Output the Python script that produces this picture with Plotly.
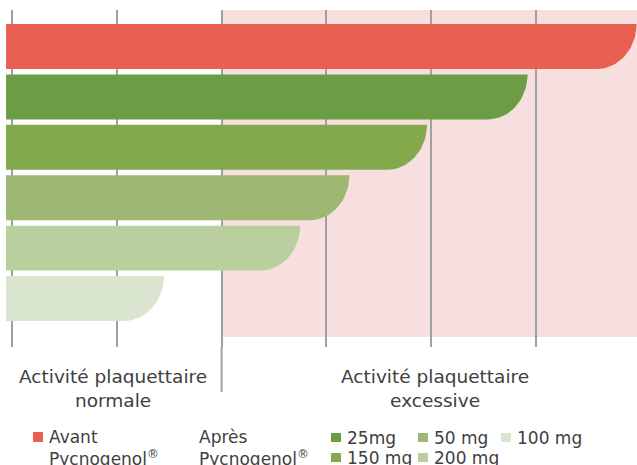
import numpy as np
import plotly.graph_objects as go

# Data (grid units: one vertical gridline = 1 unit)
groups = ["Avant Pycnogenol®", "25mg", "150 mg", "50 mg", "200 mg", "100 mg"]
activity = [5.96, 4.92, 3.96, 3.22, 2.75, 1.45]
bar_colors = ["#e95f52", "#6b9d44", "#82aa4c", "#9cb872", "#b9cf9e", "#d9e5cf"]

zone_labels = ["Activité plaquettaire<br>normale", "Activité plaquettaire<br>excessive"]
legend_doses = ["25mg", "50 mg", "100 mg", "150 mg", "200 mg"]
legend_dose_colors = ["#6b9d44", "#9cb872", "#d9e5cf", "#82aa4c", "#b9cf9e"]

W, H = 637, 465
TOP, BOTTOM = 10, 347          # plot area in px
X_RANGE = [-0.1145, 5.964]
Y_RANGE = [5.962, -0.724]
BASE = -0.057                  # bars start slightly left of first gridline
HALF = 0.446                   # half bar thickness
RX = 0.38                      # horizontal radius of rounded corner
TEXT = "#404040"
FONT = "DejaVu Sans"


def px_x(px):
    return px / W


def px_y(py):
    return (BOTTOM - py) / (BOTTOM - TOP)


fig = go.Figure()

# bars with rounded bottom-right corner
t = np.linspace(0, np.pi / 2, 30)
for i, (name, v, c) in enumerate(zip(groups, activity, bar_colors)):
    yt, yb = i - HALF, i + HALF
    xs = [BASE, v] + list(v - RX + RX * np.cos(t)) + [BASE, BASE]
    ys = [yt, yt] + list(yt + 2 * HALF * np.sin(t)) + [yb, yt]
    fig.add_trace(go.Scatter(
        x=xs, y=ys, mode="lines", fill="toself", fillcolor=c,
        line=dict(width=0), name=name, showlegend=False, hoverinfo="name",
    ))

# excessive-activity zone
fig.add_shape(type="rect", xref="x", yref="paper", x0=2, x1=7,
              y0=px_y(337), y1=1, fillcolor="#f7dfdf", line_width=0, layer="below")
# divider under the chart
fig.add_shape(type="line", xref="x", yref="paper", x0=2, x1=2,
              y0=0, y1=px_y(392), line=dict(color="#a0a0a0", width=2))

# zone labels
for lab, cx in zip(zone_labels, [112.5, 434.5]):
    fig.add_annotation(text=lab, x=px_x(cx), y=px_y(388), xref="paper", yref="paper",
                       showarrow=False, xanchor="center", yanchor="middle", align="center",
                       font=dict(family=FONT, size=18.5, color=TEXT))

# legend
fig.add_shape(type="rect", xref="paper", yref="paper", x0=px_x(33), x1=px_x(43),
              y0=px_y(442), y1=px_y(432), fillcolor=bar_colors[0], line_width=0)
for txt, lx in [("Avant<br>Pycnogenol<sup>®</sup>", 47), ("Après<br>Pycnogenol<sup>®</sup>", 197)]:
    fig.add_annotation(text=txt, x=px_x(lx), y=px_y(448), xref="paper", yref="paper",
                       showarrow=False, xanchor="left", yanchor="middle", align="left",
                       font=dict(family=FONT, size=17, color=TEXT))

cols = [331, 418, 501]
rows = [437.5, 457.5]
for k, (txt, c) in enumerate(zip(legend_doses, legend_dose_colors)):
    sx, sy = cols[k % 3], rows[k // 3]
    fig.add_shape(type="rect", xref="paper", yref="paper", x0=px_x(sx), x1=px_x(sx + 10),
                  y0=px_y(sy + 4.5), y1=px_y(sy - 4.5), fillcolor=c, line_width=0)
    fig.add_annotation(text=txt, x=px_x(sx + 14), y=px_y(sy), xref="paper", yref="paper",
                       showarrow=False, xanchor="left", yanchor="middle",
                       font=dict(family=FONT, size=17, color=TEXT))

fig.update_layout(
    width=W, height=H,
    margin=dict(l=0, r=0, t=TOP, b=H - BOTTOM),
    paper_bgcolor="white", plot_bgcolor="rgba(0,0,0,0)",
    showlegend=False,
    xaxis=dict(range=X_RANGE, dtick=1, tick0=0, showgrid=True, gridcolor="#a0a0a0",
               gridwidth=2, zeroline=False, showticklabels=False, showline=False, fixedrange=True),
    yaxis=dict(range=Y_RANGE, visible=False, showgrid=False, zeroline=False, fixedrange=True),
)

fig.write_html("out.html", config={"displayModeBar": False},
               post_script="document.body.style.margin='0';")
